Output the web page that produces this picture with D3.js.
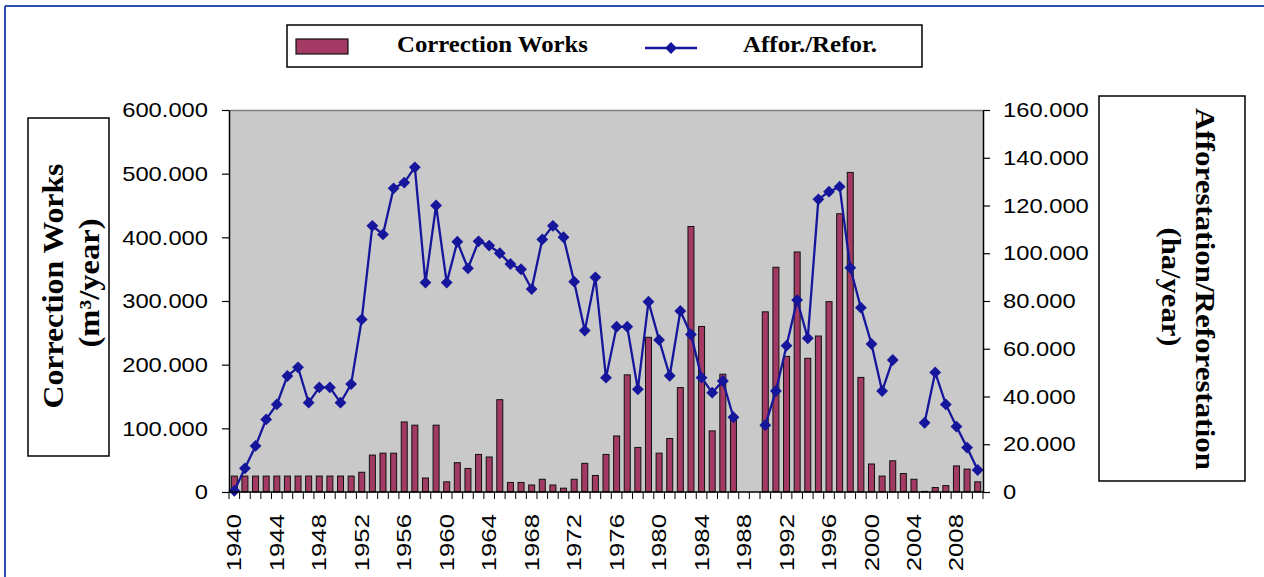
<!DOCTYPE html>
<html>
<head>
<meta charset="utf-8">
<script src="https://cdn.jsdelivr.net/npm/d3@7/dist/d3.min.js"></script>
<style>
  html, body { margin: 0; padding: 0; background: #ffffff; }
  svg { display: block; }
</style>
</head>
<body>
<svg id="chart" width="1264" height="577"></svg>
<script>
// Years on the category axis
const years = [
  1940, 1941, 1942, 1943, 1944, 1945, 1946, 1947, 1948, 1949,
  1950, 1951, 1952, 1953, 1954, 1955, 1956, 1957, 1958, 1959,
  1960, 1961, 1962, 1963, 1964, 1965, 1966, 1967, 1968, 1969,
  1970, 1971, 1972, 1973, 1974, 1975, 1976, 1977, 1978, 1979,
  1980, 1981, 1982, 1983, 1984, 1985, 1986, 1987, 1988, 1989,
  1990, 1991, 1992, 1993, 1994, 1995, 1996, 1997, 1998, 1999,
  2000, 2001, 2002, 2003, 2004, 2005, 2006, 2007, 2008, 2009,
  2010
];

// Correction works, m3 per year (null = no record)
const correctionWorks = [
  25000, 25000, 25000, 25000, 25000, 25000, 25000, 25000, 25000, 25000,
  25000, 25000, 31000, 58000, 61000, 61000, 110000, 105000, 22000, 105000,
  16000, 46000, 37000, 59000, 55000, 145000, 15000, 15000, 11000, 20000,
  11000, 6000, 20000, 45000, 26000, 59000, 88000, 184000, 70000, 243000,
  61000, 84000, 164000, 417000, 260000, 96000, 185000, 120000, null, null,
  283000, 353000, 213000, 377000, 210000, 245000, 299000, 437000, 502000, 180000,
  44000, 25000, 49000, 29000, 20000, 1000, 7000, 10000, 41000, 36000,
  16000
];

// Afforestation / reforestation, ha per year (null = no record)
const afforestation = [
  500, 9900, 19300, 30400, 36700, 48600, 52200, 37400, 43800, 43800,
  37400, 45200, 72300, 111500, 107900, 127200, 129600, 136000, 87700, 120000,
  87700, 104800, 93700, 105000, 103200, 100000, 95500, 93300, 85000, 105800,
  111500, 106700, 88100, 67600, 89900, 47900, 69200, 69200, 43000, 79700,
  63700, 48700, 75800, 66000, 47900, 41600, 46500, 31300, null, null,
  28000, 42300, 61300, 80400, 64400, 122600, 125800, 127900, 93900, 77200,
  62000, 42300, 55300, null, null, 29000, 50100, 36700, 27400, 18600,
  9200
];

// Axis ticks
const leftTicks = [0, 100000, 200000, 300000, 400000, 500000, 600000];
const rightTicks = [0, 20000, 40000, 60000, 80000, 100000, 120000, 140000, 160000];
const yearLabels = [1940, 1944, 1948, 1952, 1956, 1960, 1964, 1968, 1972, 1976,
                    1980, 1984, 1988, 1992, 1996, 2000, 2004, 2008];

const seriesNames = ["Correction Works", "Affor./Refor."];

// ---- layout & style ----
const plot = { left: 229, right: 983, top: 110, bottom: 492 };
const barColor = "#a33a63";
const lineColor = "#16169c";
const plotFill = "#c9c9c9";
const sans = "'Liberation Sans', Arial, sans-serif";
const serif = "'Liberation Serif', 'Times New Roman', serif";

const svg = d3.select("#chart");

const fmt = d3.formatLocale({ decimal: ",", thousands: ".", grouping: [3], currency: ["", ""] }).format(",");

const x = d3.scaleBand().domain(years).range([plot.left, plot.right]).padding(0);
const yL = d3.scaleLinear().domain([0, 600000]).range([plot.bottom, plot.top]);
const yR = d3.scaleLinear().domain([0, 160000]).range([plot.bottom, plot.top]);

// outer frame lines
svg.append("line").attr("x1", 5).attr("x2", 1264).attr("y1", 6).attr("y2", 6)
  .attr("stroke", "#2f4fb0").attr("stroke-width", 2);
svg.append("line").attr("x1", 5).attr("x2", 5).attr("y1", 6).attr("y2", 577)
  .attr("stroke", "#2f4fb0").attr("stroke-width", 2);

// plot area
svg.append("rect")
  .attr("x", plot.left).attr("y", plot.top)
  .attr("width", plot.right - plot.left).attr("height", plot.bottom - plot.top)
  .attr("fill", plotFill);
svg.append("line").attr("x1", plot.left).attr("x2", plot.right)
  .attr("y1", plot.top + 0.5).attr("y2", plot.top + 0.5)
  .attr("stroke", "#808080").attr("stroke-width", 1.5);

// bars
const barW = 6;
const barData = years.map((yr, i) => ({ yr, v: correctionWorks[i] })).filter(d => d.v !== null);
svg.append("g").selectAll("rect").data(barData).join("rect")
  .attr("x", d => x(d.yr) + x.bandwidth() / 2 - barW / 2)
  .attr("y", d => yL(d.v))
  .attr("width", barW)
  .attr("height", d => plot.bottom - yL(d.v))
  .attr("fill", barColor)
  .attr("stroke", "#111")
  .attr("stroke-width", 1);

// line with gaps
const lineData = years.map((yr, i) => ({ yr, v: afforestation[i] }));
const line = d3.line()
  .defined(d => d.v !== null)
  .x(d => x(d.yr) + x.bandwidth() / 2)
  .y(d => yR(d.v));
svg.append("path").datum(lineData)
  .attr("d", line)
  .attr("fill", "none")
  .attr("stroke", lineColor)
  .attr("stroke-width", 2.3);

const diamond = d3.symbol().type(d3.symbolSquare).size(70);
svg.append("g").selectAll("path").data(lineData.filter(d => d.v !== null)).join("path")
  .attr("d", diamond)
  .attr("transform", d => `translate(${x(d.yr) + x.bandwidth() / 2},${yR(d.v)}) rotate(45)`)
  .attr("fill", lineColor);

// stretch helper for tick labels
function stretch(sel, k) {
  sel.each(function () {
    const w = this.getComputedTextLength();
    d3.select(this).attr("textLength", w * k).attr("lengthAdjust", "spacingAndGlyphs");
  });
}

// left axis
const gL = svg.append("g").attr("transform", `translate(${plot.left},0)`)
  .call(d3.axisLeft(yL).tickValues(leftTicks).tickFormat(fmt).tickSizeInner(7).tickSizeOuter(0).tickPadding(14));
gL.select(".domain").attr("stroke", "#000").attr("stroke-width", 1.5);
gL.selectAll(".tick line").attr("stroke", "#000").attr("stroke-width", 1.2);
gL.selectAll("text").attr("font-family", sans).attr("font-size", 21).attr("fill", "#000").call(stretch, 1.13);

// right axis
const gR = svg.append("g").attr("transform", `translate(${plot.right},0)`)
  .call(d3.axisRight(yR).tickValues(rightTicks).tickFormat(fmt).tickSizeInner(7).tickSizeOuter(0).tickPadding(13));
gR.select(".domain").attr("stroke", "#000").attr("stroke-width", 1.5);
gR.selectAll(".tick line").attr("stroke", "#000").attr("stroke-width", 1.2);
gR.selectAll("text").attr("font-family", sans).attr("font-size", 21).attr("fill", "#000").call(stretch, 1.13);

// bottom axis: ticks between categories, labels every fourth year
const gB = svg.append("g").attr("transform", `translate(0,${plot.bottom})`);
gB.append("line").attr("x1", plot.left).attr("x2", plot.right).attr("y1", 0).attr("y2", 0)
  .attr("stroke", "#000").attr("stroke-width", 1.5);
gB.selectAll("line.cat").data(years.concat([null])).join("line")
  .attr("class", "cat")
  .attr("x1", (d, i) => plot.left + i * x.step()).attr("x2", (d, i) => plot.left + i * x.step())
  .attr("y1", 0).attr("y2", 7)
  .attr("stroke", "#000").attr("stroke-width", 1);
const gBL = svg.append("g").attr("transform", `translate(0,${plot.bottom})`)
  .call(d3.axisBottom(x).tickValues(yearLabels).tickSize(0));
gBL.select(".domain").remove();
gBL.selectAll("text")
  .attr("font-family", sans).attr("font-size", 19.5).attr("fill", "#000")
  .attr("transform", "rotate(-90)")
  .attr("x", -22).attr("y", 0).attr("dy", "0.36em")
  .style("text-anchor", "end")
  .call(stretch, 1.32);

// left axis title box
svg.append("rect").attr("x", 28).attr("y", 118).attr("width", 81).attr("height", 338)
  .attr("fill", "#fff").attr("stroke", "#000").attr("stroke-width", 1.5);
svg.append("text").attr("transform", "translate(63,286) rotate(-90)")
  .attr("text-anchor", "middle").attr("font-family", serif).attr("font-weight", "bold")
  .attr("font-size", 29).attr("textLength", 245).attr("lengthAdjust", "spacingAndGlyphs")
  .text("Correction Works");
svg.append("text").attr("transform", "translate(99,283) rotate(-90)")
  .attr("text-anchor", "middle").attr("font-family", serif).attr("font-weight", "bold")
  .attr("font-size", 29).attr("textLength", 129).attr("lengthAdjust", "spacingAndGlyphs")
  .text("(m³/year)");

// right axis title box
svg.append("rect").attr("x", 1099).attr("y", 96).attr("width", 146).attr("height", 385)
  .attr("fill", "#fff").attr("stroke", "#000").attr("stroke-width", 1.5);
svg.append("text").attr("transform", "translate(1196,289) rotate(90)")
  .attr("text-anchor", "middle").attr("font-family", serif).attr("font-weight", "bold")
  .attr("font-size", 28).attr("textLength", 362).attr("lengthAdjust", "spacingAndGlyphs")
  .text("Afforestation/Reforestation");
svg.append("text").attr("transform", "translate(1162,287) rotate(90)")
  .attr("text-anchor", "middle").attr("font-family", serif).attr("font-weight", "bold")
  .attr("font-size", 28).attr("textLength", 119).attr("lengthAdjust", "spacingAndGlyphs")
  .text("(ha/year)");

// legend
const lg = svg.append("g");
lg.append("rect").attr("x", 287).attr("y", 25).attr("width", 635).attr("height", 42)
  .attr("fill", "#fff").attr("stroke", "#000").attr("stroke-width", 1.5);
lg.append("rect").attr("x", 296).attr("y", 39).attr("width", 52).attr("height", 15)
  .attr("fill", barColor).attr("stroke", "#111").attr("stroke-width", 1.2);
lg.append("text").attr("x", 397).attr("y", 52)
  .attr("font-family", serif).attr("font-weight", "bold").attr("font-size", 24)
  .attr("textLength", 191).attr("lengthAdjust", "spacingAndGlyphs")
  .text(seriesNames[0]);
lg.append("line").attr("x1", 645).attr("x2", 697).attr("y1", 48).attr("y2", 48)
  .attr("stroke", lineColor).attr("stroke-width", 2.3);
lg.append("path").attr("d", diamond).attr("transform", "translate(671,48) rotate(45)")
  .attr("fill", lineColor);
lg.append("text").attr("x", 743).attr("y", 52)
  .attr("font-family", serif).attr("font-weight", "bold").attr("font-size", 24)
  .attr("textLength", 134).attr("lengthAdjust", "spacingAndGlyphs")
  .text(seriesNames[1]);
</script>
</body>
</html>
